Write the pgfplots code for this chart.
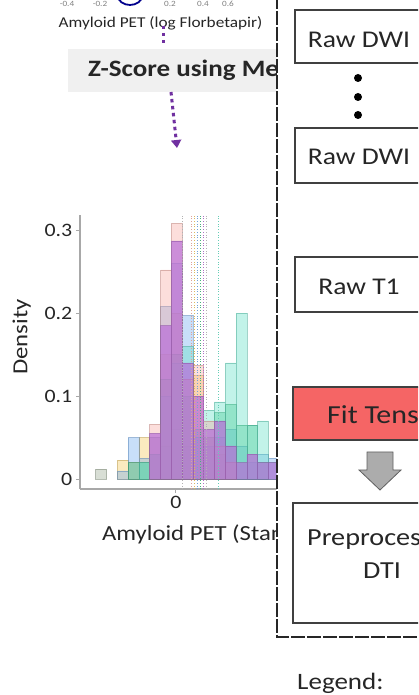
\documentclass[border=0pt]{standalone}
\usepackage{pgfplots}
\pgfplotsset{compat=1.18}
\usepackage{fontspec}
\setmainfont[FakeStretch=1.15]{Carlito}
\usetikzlibrary{arrows.meta}
\definecolor{txt}{HTML}{262626}
\definecolor{bannergray}{HTML}{F0F0F0}
\definecolor{purp}{HTML}{7030A0}
\definecolor{fitred}{HTML}{F56565}
\definecolor{cP}{HTML}{F7A8A0}
\definecolor{cB}{HTML}{6EAAF0}
\definecolor{cM}{HTML}{B86CD8}
\definecolor{cT}{HTML}{5EE0C4}
\definecolor{cG}{HTML}{38C07A}
\definecolor{cY}{HTML}{F4C858}
\definecolor{cX}{HTML}{98A890}
\definecolor{axgray}{HTML}{A8A8A8}
\begin{document}
\begin{tikzpicture}[x=1pt,y=1pt]
\path[use as bounding box] (0,0) rectangle (418,695);
\begin{scope}
\clip (0,0) rectangle (276.5,695);
% banner
\fill[bannergray] (68,603) rectangle (290,646);
\node[anchor=west, font=\fontsize{23.5}{23.5}\selectfont\bfseries, text=txt, inner sep=0] at (88,625) {Z-Score using Median};
% top fragment of previous plot
\node[font=\fontsize{15}{15}\selectfont, text=txt, inner sep=0] at (160.5,672) {Amyloid PET (log Florbetapir)};
\foreach \xx/\tl in {67/-0.4,100/-0.2,170/0.2,203/0.4,228/0.6}
  \node[font=\fontsize{8}{8}\selectfont, text=gray, inner sep=0] at (\xx,691) {\tl};
\draw[blue!55!black, line width=1.8pt] (130,699) ellipse (12 and 9);
\draw[blue!40, line width=0.8pt] (130,701) ellipse (7 and 5);
% purple dotted arrow
\draw[purp, line width=3pt, dash pattern=on 3.5pt off 3.5pt] (163,669) -- (163,648);
\draw[purp, line width=3pt, dash pattern=on 3.5pt off 3.5pt, -{Triangle[length=8pt,width=10pt]}] (171,603) -- (177,547);
\begin{axis}[
  at={(76,248)}, anchor=south west,
  scale only axis, width=306pt, height=274pt,
  xmin=-0.914, xmax=2.0, ymin=-0.012, ymax=0.318,
  axis x line*=bottom, axis y line*=left,
  axis line style={axgray, line width=1.5pt, -},
  tick style={axgray, line width=1pt},
  tick align=outside, major tick length=4pt,
  xtick={0,1}, xticklabels={0,1},
  ytick={0,0.1,0.2,0.3}, yticklabels={0,0.1,0.2,0.3},
  /pgf/number format/assume math mode=true,
  ticklabel style={font=\fontsize{19}{19}\selectfont, text=txt},
  xlabel={Amyloid PET (Standardized)},
  ylabel={Density},
  label style={font=\fontsize{21.5}{21.5}\selectfont, text=txt},
  xlabel style={at={(rel axis cs:0.072,0)}, anchor=west, inner sep=0pt, yshift=-45pt},
  ylabel style={at={(rel axis cs:0,0.555)}, anchor=center, inner sep=0pt, yshift=58pt},
  hb/.style={ybar, bar width=0.1029, bar shift=0pt, fill=#1, draw=#1!75!black, fill opacity=0.38, draw opacity=0.5, line width=0.6pt},
]
\addplot[hb=cX] coordinates {(-0.711,0.012) (-0.094,0.04) (0.009,0.06) (0.112,0.04)};
\addplot[hb=cY] coordinates {(-0.505,0.023) (-0.402,0.02) (-0.299,0.05) (-0.197,0.05) (-0.094,0.15) (0.009,0.20) (0.112,0.12) (0.215,0.125) (0.318,0.05) (0.420,0.03) (0.523,0.02)};
\addplot[hb=cB] coordinates {(-0.505,0.01) (-0.402,0.05) (-0.299,0.025) (-0.197,0.05) (-0.094,0.208) (0.009,0.26) (0.112,0.197) (0.215,0.05) (0.318,0.04) (0.420,0.05) (0.523,0.06) (0.626,0.04) (0.729,0.02) (0.831,0.03) (0.934,0.025)};
\addplot[hb=cG] coordinates {(-0.402,0.02) (-0.299,0.02) (-0.197,0.03) (-0.094,0.12) (0.009,0.15) (0.112,0.10) (0.215,0.06) (0.318,0.05) (0.420,0.08) (0.523,0.09) (0.626,0.065) (0.729,0.065) (0.831,0.02)};
\addplot[hb=cT] coordinates {(-0.299,0.02) (-0.197,0.03) (-0.094,0.10) (0.009,0.14) (0.112,0.16) (0.215,0.05) (0.318,0.083) (0.420,0.093) (0.523,0.14) (0.626,0.20) (0.729,0.065) (0.831,0.07) (0.934,0.02) (1.037,0.20)};
\addplot[hb=cP] coordinates {(-0.197,0.066) (-0.094,0.252) (0.009,0.308) (0.112,0.12) (0.215,0.137) (0.318,0.07) (0.420,0.04) (0.523,0.02) (1.037,0.33)};
\addplot[hb=cM, fill opacity=0.7] coordinates {(-0.197,0.055) (-0.094,0.185) (0.009,0.287) (0.112,0.14) (0.215,0.10) (0.318,0.06) (0.420,0.07) (0.523,0.04) (0.626,0.02) (0.729,0.03) (0.831,0.02) (0.934,0.02)};
\addplot[gray!60, dotted, line width=0.7pt] coordinates {(0.067,-0.012) (0.067,0.318)};
\addplot[cP!80!gray, dotted, line width=0.7pt] coordinates {(0.152,-0.012) (0.152,0.318)};
\addplot[cY!80!gray, dotted, line width=0.7pt] coordinates {(0.181,-0.012) (0.181,0.318)};
\addplot[cB!80!gray, dotted, line width=0.7pt] coordinates {(0.210,-0.012) (0.210,0.318)};
\addplot[cG!80!gray, dotted, line width=0.7pt] coordinates {(0.238,-0.012) (0.238,0.318)};
\addplot[cM!80!gray, dotted, line width=0.7pt] coordinates {(0.267,-0.012) (0.267,0.318)};
\addplot[gray!60, dotted, line width=0.7pt] coordinates {(0.295,-0.012) (0.295,0.318)};
\addplot[cT!80!gray, dotted, line width=0.7pt] coordinates {(0.410,-0.012) (0.410,0.318)};
\end{axis}
\end{scope}
% right panel
\begin{scope}
\clip (0,0) rectangle (418,695);
\draw[gray!30!black, line width=1.1pt, dash pattern=on 14pt off 2pt] (277,700) -- (277,58) -- (420,58);
\tikzset{bx/.style={draw=gray!50!black, line width=1.2pt}, bt/.style={font=\fontsize{24}{24}\selectfont, text=txt}}
\draw[bx] (295,632) rectangle (440,685);
\node[bt] at (359,655) {Raw DWI};
\foreach \yy in {617,598,580} \fill[black] (358,\yy) circle (4);
\draw[bx] (295,512) rectangle (440,567);
\node[bt] at (359,538) {Raw DWI};
\draw[bx] (295,383) rectangle (440,438);
\node[bt] at (359,408) {Raw T1};
\draw[bx, fill=fitred] (293,255) rectangle (440,308);
\node[bt, font=\fontsize{26}{26}\selectfont, anchor=west, inner sep=0] at (327,280) {Fit Tensor};
\filldraw[fill=gray!65, draw=gray!75!black, line width=0.8pt] (367,243) -- (393,243) -- (393,225) -- (401,225) -- (380,205) -- (359,225) -- (367,225) -- cycle;
\draw[bx] (293,72) rectangle (440,192);
\node[bt, font=\fontsize{24.5}{24.5}\selectfont, anchor=west, inner sep=0] at (307,156) {Preprocessed};
\node[bt, font=\fontsize{24.5}{24.5}\selectfont, inner sep=0] at (382,124) {DTI};
\node[bt, font=\fontsize{23.5}{23.5}\selectfont, anchor=west, inner sep=0] at (297,12) {Legend:};
\end{scope}
\end{tikzpicture}
\end{document}
